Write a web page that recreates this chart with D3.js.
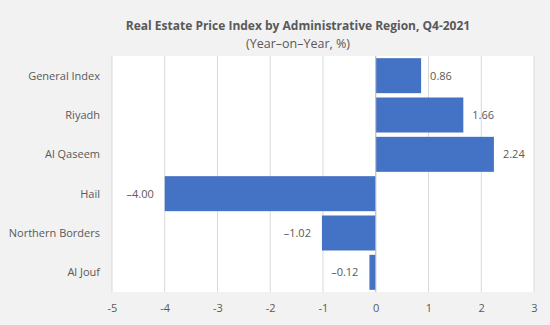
<!DOCTYPE html>
<html>
<head>
<meta charset="utf-8">
<script src="https://cdn.jsdelivr.net/npm/d3@7"></script>
<style>
  body { margin: 0; background: #f2f2f2; }
  text { font-family: "Open Sans", sans-serif; fill: #595959; }
</style>
</head>
<body>
<script>
// Chart data
var regions = ["General Index", "Riyadh", "Al Qaseem", "Hail", "Northern Borders", "Al Jouf"];
var values = [0.86, 1.66, 2.24, -4.00, -1.02, -0.12];
var xTicks = [-5, -4, -3, -2, -1, 0, 1, 2, 3];

var W = 550, H = 325;
var plot = {left: 112, right: 534, top: 56, bottom: 292};

var svg = d3.select("body").append("svg")
    .attr("width", W)
    .attr("height", H);

svg.append("rect")
    .attr("width", W).attr("height", H)
    .attr("fill", "#f2f2f2");

// plot area
svg.append("rect")
    .attr("x", plot.left).attr("y", plot.top)
    .attr("width", plot.right - plot.left)
    .attr("height", plot.bottom - plot.top)
    .attr("fill", "#ffffff");

var x = d3.scaleLinear()
    .domain([d3.min(xTicks), d3.max(xTicks)])
    .range([plot.left, plot.right]);

var y = d3.scaleBand()
    .domain(regions)
    .range([plot.top, plot.bottom])
    .paddingInner(0.11)
    .paddingOuter(0.055);

// gridlines
svg.append("g").selectAll("line")
    .data(xTicks)
    .enter().append("line")
    .attr("x1", function(d) { return x(d); })
    .attr("x2", function(d) { return x(d); })
    .attr("y1", plot.top)
    .attr("y2", plot.bottom)
    .attr("stroke", "#d9d9d9")
    .attr("stroke-width", 1);

// x axis tick labels (plain hyphen like the original)
svg.append("g")
    .attr("transform", "translate(0," + (plot.bottom + 9) + ")")
    .call(d3.axisBottom(x).tickValues(xTicks).tickSize(0).tickFormat(function(d) { return String(d); }))
    .call(function(g) { g.select(".domain").remove(); })
    .selectAll("text")
      .style("font-size", "11px")
      .attr("fill", "#595959");

// bars
svg.selectAll(".bar")
    .data(values)
    .enter().append("rect")
    .attr("class", "bar")
    .attr("x", function(d) { return x(Math.min(0, d)); })
    .attr("y", function(d, i) { return y(regions[i]); })
    .attr("width", function(d) { return Math.abs(x(d) - x(0)); })
    .attr("height", y.bandwidth())
    .attr("fill", "#4472c4");

// zero line
svg.append("line")
    .attr("x1", x(0)).attr("x2", x(0))
    .attr("y1", plot.top).attr("y2", plot.bottom)
    .attr("stroke", "#bfbfbf");

// value labels
svg.selectAll(".val")
    .data(values)
    .enter().append("text")
    .attr("class", "val")
    .attr("x", function(d) { return d >= 0 ? x(d) + 9 : x(d) - 11; })
    .attr("y", function(d, i) { return y(regions[i]) + y.bandwidth() / 2; })
    .attr("dy", "0.35em")
    .attr("text-anchor", function(d) { return d >= 0 ? "start" : "end"; })
    .style("font-size", "11px")
    .text(function(d) { return d3.format(".2f")(d).replace("-", "\u2013").replace("\u2212", "\u2013"); });

// category labels
svg.selectAll(".cat")
    .data(regions)
    .enter().append("text")
    .attr("class", "cat")
    .attr("x", 100)
    .attr("y", function(d) { return y(d) + y.bandwidth() / 2; })
    .attr("dy", "0.35em")
    .attr("text-anchor", "end")
    .style("font-size", "11px")
    .text(function(d) { return d; });

// title
svg.append("text")
    .attr("x", 298)
    .attr("y", 30)
    .attr("text-anchor", "middle")
    .style("font-size", "12px")
    .style("font-weight", "bold")
    .text("Real Estate Price Index by Administrative Region, Q4-2021");

svg.append("text")
    .attr("x", 298)
    .attr("y", 48)
    .attr("text-anchor", "middle")
    .style("font-size", "12.5px")
    .text("(Year\u2013on\u2013Year, %)");
</script>
</body>
</html>
